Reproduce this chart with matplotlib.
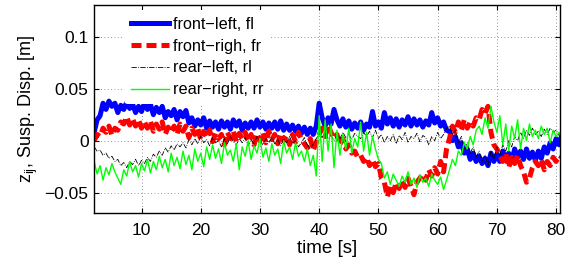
import matplotlib
matplotlib.use("Agg")
import matplotlib.pyplot as plt
import numpy as np

plt.rcParams['font.family'] = ['Liberation Sans', 'DejaVu Sans']
plt.rcParams['mathtext.default'] = 'regular'

# time base [s], 0.5 s steps (159 values)
t = np.arange(2, 81.01, 0.5)

# suspension displacement [mm]
front_left = [8, 20, 24, 36, 30, 38, 33, 36, 27, 34,
              30, 37, 31, 35, 27, 33, 28, 36, 30, 35,
              25, 32, 27, 33, 22, 28, 24, 30, 20, 28,
              23, 29, 17, 22, 14, 20, 15, 22, 12, 19,
              13, 18, 11, 19, 13, 18, 11, 20, 14, 19,
              10, 17, 12, 18, 12, 20, 13, 18, 11, 17,
              12, 18, 11, 19, 10, 16, 10, 15, 9, 14,
              7, 13, 6, 12, 6, 14, 36, 22, 14, 22,
              16, 30, 20, 14, 21, 13, 19, 11, 17, 12,
              18, 10, 16, 13, 28, 14, 18, 12, 27, 16,
              22, 14, 21, 13, 20, 15, 23, 14, 21, 15,
              20, 13, 19, 15, 27, 17, 22, 14, 18, 10,
              9, 0, 4, -6, -2, -12, -8, -18, -12, -20,
              -15, -22, -17, -24, -12, -20, -13, -20, -10, -18,
              -12, -20, -8, -16, -10, -18, -8, -17, -11, -19,
              -10, -17, -6, -12, -2, -8, 2, -4, 6]

front_right = [0, 6, 4, 12, 8, 14, 5, 12, 10, 18,
               16, 23, 15, 21, 14, 20, 12, 18, 12, 19,
               9, 16, 11, 18, 6, 13, 8, 14, 6, 16,
               9, 14, 3, 12, 6, 12, 1, 9, 3, 10,
               -1, 7, 2, 6, -4, 8, 2, 9, -1, 7,
               2, 8, -1, 6, -4, 7, 0, 8, -2, 9,
               1, 6, -3, 7, 0, 5, -4, 6, -1, 8,
               1, -3, -7, 2, -9, -2, 6, 12, 4, 15,
               8, 2, 6, -4, 2, -8, -4, -12, -10, -16,
               -14, -20, -16, -24, -18, -25, -22, -36, -40, -54,
               -44, -50, -40, -46, -38, -45, -36, -44, -52, -40,
               -36, -32, -38, -28, -34, -26, -32, -20, -30, -8,
               2, 14, 8, 18, 10, 20, 12, 18, 14, 22,
               20, 30, 26, 33, 8, -4, -8, -14, -20, -12,
               -26, -16, -22, -14, -24, -30, -40, -36, -26, -20,
               -24, -18, -28, -20, -24, -16, -20, -14, -16]

rear_left = [-6, -10, -9, -14, -12, -17, -15, -20, -18, -24,
             -21, -26, -20, -23, -18, -24, -19, -22, -16, -20,
             -13, -16, -10, -14, -7, -11, -5, -9, -3, -6,
             -2, -7, 1, -4, 2, -3, 4, -2, 1, -5,
             3, -2, 0, -6, 2, -3, 4, -1, -4, 2,
             -2, 3, -5, 1, -3, 4, 0, -4, 2, -2,
             3, -3, 1, -5, 2, -2, 4, -3, 0, -6,
             -2, 3, -4, -8, -3, 2, 6, 3, 7, 2,
             5, 0, 6, 2, 8, 3, 6, 1, 7, 4,
             2, 8, 4, 9, 3, 10, 2, 6, -2, 4,
             0, 6, -3, 5, 1, 8, -2, 4, 2, 7,
             -1, 5, 3, -4, 4, 0, 8, 2, 6, 12,
             14, 6, 10, -2, 4, -8, -2, -12, -6, -16,
             -10, -20, -14, -24, -10, -18, -6, -14, -4, -10,
             0, -6, 4, 0, 8, 2, 10, 5, 12, 6,
             9, 4, 11, 6, 12, 8, 10, 5, 9]

rear_right = [-20, -32, -24, -38, -26, -33, -22, -30, -36, -42,
              -28, -34, -20, -30, -24, -35, -22, -29, -18, -31,
              -20, -28, -15, -26, -18, -30, -12, -24, -16, -27,
              -10, -23, -14, -28, -8, -20, -12, -25, -6, -18,
              -4, -17, -8, -22, -2, -14, -9, -20, -3, -28,
              -6, -15, 0, -18, -5, -12, 2, -16, -7, -20,
              -3, -14, -8, -22, 0, -12, -6, -18, -2, -15,
              -10, -20, -8, -24, -14, -34, 24, -20, 20, -10,
              16, -26, 10, -14, 6, -8, 12, -12, 2, -6,
              18, -10, 8, -14, 4, -8, -18, -22, -36, -30,
              -42, -32, -38, -44, -34, -40, -30, -42, -36, -45,
              -33, -40, -36, -44, -32, -38, -42, -35, -47, -38,
              -28, -18, -24, -10, -14, -2, -8, 4, -4, 10,
              14, 6, 22, 12, 33, 18, 8, 24, -4, 16,
              -10, 14, 2, 20, -8, 12, 0, 16, 4, 10,
              2, 14, 6, 12, -2, 10, 4, 8, 2]

labels = ["front\u2212left, fl", "front\u2212righ, fr",
          "rear\u2212left, rl", "rear\u2212right, rr"]
y_ticks = [-0.05, 0, 0.05, 0.1]
y_ticklabels = ["\u22120.05", "0", "0.05", "0.1"]
x_ticks = [10, 20, 30, 40, 50, 60, 70, 80]

fig = plt.figure(figsize=(5.74, 2.6), dpi=100)
ax = fig.add_axes([0.164, 0.181, 0.811, 0.800])

ax.plot(t, np.array(front_left) / 1000, color='#0000ff', lw=3.6,
        label=labels[0])
ax.plot(t, np.array(front_right) / 1000, color='#ff0000', lw=3.6,
        ls=(0, (2.0, 1.0)), label=labels[1])
ax.plot(t, np.array(rear_left) / 1000, color='black', lw=0.6,
        ls='-.', label=labels[2])
ax.plot(t, np.array(rear_right) / 1000, color='#00ff00', lw=1.0,
        label=labels[3])

ax.set_xlim(2, 80.6)
ax.set_ylim(-0.0695, 0.1305)
ax.set_xticks(x_ticks)
ax.set_yticks(y_ticks)
ax.set_yticklabels(y_ticklabels)
ax.tick_params(direction='in', top=True, right=True, labelsize=12.5,
               length=3.5, width=0.8)
ax.tick_params(axis='x', pad=7)
ax.tick_params(axis='y', pad=4)
ax.grid(True, color='0.45', ls=(0, (1, 3)), lw=0.6)
for s in ax.spines.values():
    s.set_linewidth(1.0)

ax.set_xlabel("time [s]", fontsize=13.5, labelpad=2)
ax.set_ylabel(r"$z_{ij}$, Susp. Disp. [m]", fontsize=13, labelpad=3)

leg = ax.legend(loc='upper left', bbox_to_anchor=(0.058, 0.99), fontsize=11.7,
                frameon=True, edgecolor='none', framealpha=1.0,
                handlelength=2.35, handletextpad=0.25, labelspacing=0.42,
                borderaxespad=0.2, borderpad=0.4)
leg.get_frame().set_linewidth(0)

fig.savefig("out.png", dpi=100)
